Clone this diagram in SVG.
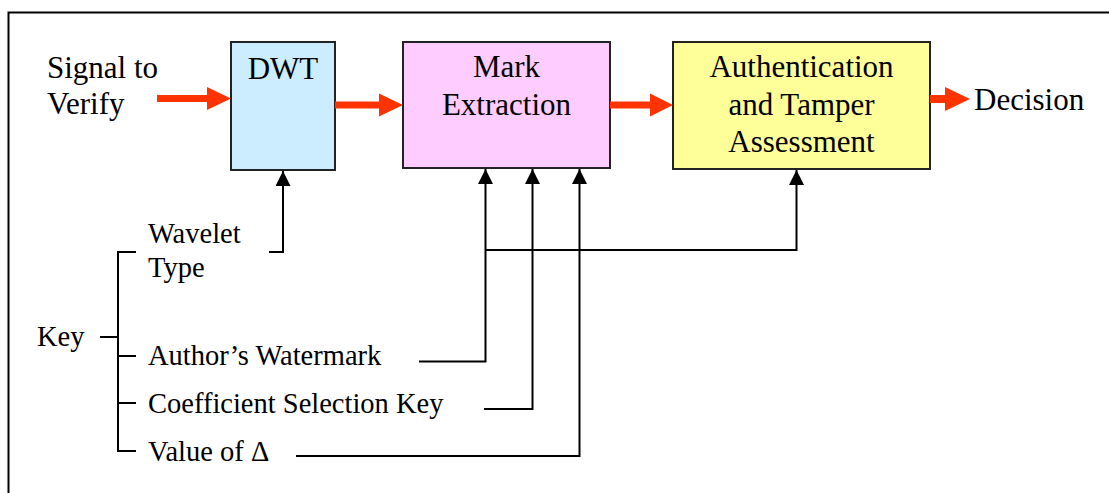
<svg xmlns="http://www.w3.org/2000/svg" width="1109" height="493" viewBox="0 0 1109 493" font-family="'Liberation Serif', Tinos, 'Times New Roman', 'DejaVu Serif', serif">
<defs>
<marker id="ah" markerWidth="15" markerHeight="15" viewBox="0 0 15 15" refX="15" refY="7.5" orient="auto" markerUnits="userSpaceOnUse">
<path d="M0,0 L15,7.5 L0,15 Z" fill="#000"/>
</marker>
</defs>
<rect width="1109" height="493" fill="#fff"/>
<path d="M8.5,493 V12.5 H1109" fill="none" stroke="#000" stroke-width="2"/>

<g id="signal-label">
<text font-family="'Liberation Serif', Tinos, 'Times New Roman', serif" font-size="31" x="47" y="78">Signal to</text>
<text font-family="'Liberation Serif', Tinos, 'Times New Roman', serif" font-size="31" x="47" y="114">Verify</text>
</g>
<g id="dwt">
<rect x="231" y="42" width="104" height="128" fill="#CCECFF" stroke="#222" stroke-width="2"/>
<text font-family="'Liberation Serif', Tinos, 'Times New Roman', serif" font-size="31" x="283" y="79" text-anchor="middle">DWT</text>
</g>
<g id="mark-extraction">
<rect x="403" y="42" width="207" height="126" fill="#FFCCFF" stroke="#222" stroke-width="2"/>
<text font-family="'Liberation Serif', Tinos, 'Times New Roman', serif" font-size="31" x="506.5" y="77" text-anchor="middle">Mark</text>
<text font-family="'Liberation Serif', Tinos, 'Times New Roman', serif" font-size="31" x="506.5" y="115" text-anchor="middle">Extraction</text>
</g>
<g id="authentication">
<rect x="673" y="42" width="257" height="127" fill="#FFFF99" stroke="#222" stroke-width="2"/>
<text font-family="'Liberation Serif', Tinos, 'Times New Roman', serif" font-size="31" x="801.5" y="77" text-anchor="middle">Authentication</text>
<text font-family="'Liberation Serif', Tinos, 'Times New Roman', serif" font-size="31" x="801.5" y="115" text-anchor="middle">and Tamper</text>
<text font-family="'Liberation Serif', Tinos, 'Times New Roman', serif" font-size="31" x="801.5" y="152" text-anchor="middle">Assessment</text>
</g>
<g id="decision">
<text font-family="'Liberation Serif', Tinos, 'Times New Roman', serif" font-size="31" x="974" y="110">Decision</text>
</g>
<g id="key">
<text font-family="'Liberation Serif', Tinos, 'Times New Roman', serif" font-size="28.5" x="37" y="346">Key</text>
</g>
<g id="wavelet-type">
<text font-family="'Liberation Serif', Tinos, 'Times New Roman', serif" font-size="28.5" x="148" y="243">Wavelet</text>
<text font-family="'Liberation Serif', Tinos, 'Times New Roman', serif" font-size="28.5" x="148" y="277">Type</text>
</g>
<g id="authors-watermark">
<text font-family="'Liberation Serif', Tinos, 'Times New Roman', serif" font-size="28.5" x="148" y="365">Author’s Watermark</text>
</g>
<g id="coefficient-key">
<text font-family="'Liberation Serif', Tinos, 'Times New Roman', serif" font-size="28.5" x="148" y="413">Coefficient Selection Key</text>
</g>
<g id="value-delta">
<text font-family="'Liberation Serif', Tinos, 'Times New Roman', serif" font-size="28.5" x="148" y="461">Value of Δ</text>
</g>

<g id="connectors">
<g fill="#FF3300">
<path d="M157,95 H207 V87 L231,98.5 L207,110 V102 H157 Z"/>
<path d="M335,101.5 H379 V93.5 L403,105 L379,116.5 V108.5 H335 Z"/>
<path d="M610,101.5 H650 V93.5 L673,105 L650,116.5 V108.5 H610 Z"/>
<path d="M930,95 H945 V87 L970,99 L945,111 V103 H930 Z"/>
</g>
<g fill="none" stroke="#000" stroke-width="2">
<path d="M136,252 H118 V451 H136"/>
<path d="M100,337 H118"/>
<path d="M118,356 H136"/>
<path d="M118,403 H136"/>
<path d="M269,252 H283 V171" marker-end="url(#ah)"/>
<path d="M419,361.5 H485.5 V169" marker-end="url(#ah)"/>
<path d="M484,409 H532.5 V169" marker-end="url(#ah)"/>
<path d="M296,456 H579.5 V169" marker-end="url(#ah)"/>
<path d="M485.5,250 H796.5 V170" marker-end="url(#ah)"/>
</g>
</g>
</svg>
